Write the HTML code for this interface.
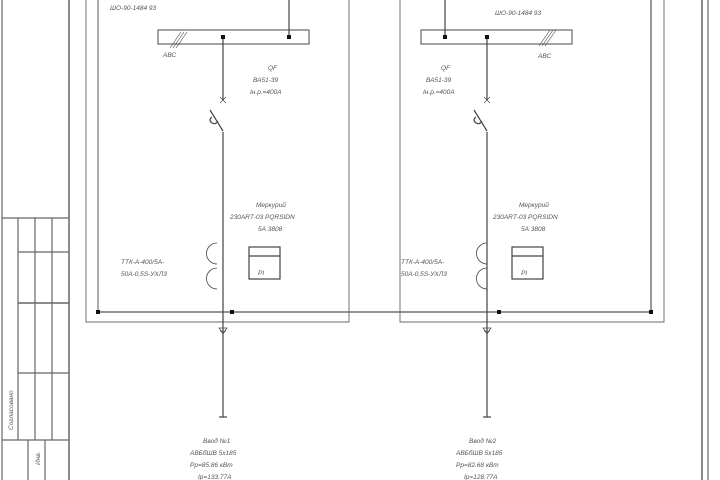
<!DOCTYPE html>
<html><head><meta charset="utf-8"><style>
html,body{margin:0;padding:0;background:#fff;width:720px;height:480px;overflow:hidden}
svg text{font-family:"Liberation Sans","DejaVu Sans",sans-serif;font-style:italic;font-size:6.5px;fill:#555}
</style></head><body>
<svg width="720" height="480" viewBox="0 0 720 480" xmlns="http://www.w3.org/2000/svg">
<g stroke="#666" stroke-width="1.2" fill="none">
<!-- left stamp table -->
<line x1="2" y1="0" x2="2" y2="480"/>
<line x1="69" y1="0" x2="69" y2="480" stroke-width="1.5"/>
<line x1="2" y1="218" x2="69" y2="218"/>
<line x1="18" y1="252" x2="69" y2="252"/>
<line x1="18" y1="303" x2="69" y2="303" stroke-width="1.6"/>
<line x1="18" y1="373" x2="69" y2="373"/>
<line x1="2" y1="440" x2="69" y2="440"/>
<line x1="18" y1="218" x2="18" y2="440"/>
<line x1="35" y1="218" x2="35" y2="440"/>
<line x1="52" y1="218" x2="52" y2="440"/>
<line x1="28" y1="440" x2="28" y2="480"/>
<line x1="45" y1="440" x2="45" y2="480"/>
<!-- frames -->
<line x1="702" y1="0" x2="702" y2="480" stroke-width="1.5"/>
<line x1="708" y1="0" x2="708" y2="480"/>
<!-- panels -->
<polyline points="86,0 86,322 349,322 349,0" stroke="#888"/>
<polyline points="400,0 400,322 664,322 664,0" stroke="#888"/>
<!-- bus -->
<line x1="98" y1="312" x2="651" y2="312" stroke="#555"/>
<line x1="651" y1="0" x2="651" y2="312" stroke="#555"/>
<line x1="98" y1="0" x2="98" y2="312" stroke="#777"/>
<!-- busbars -->
<rect x="158" y="30" width="151" height="14"/>
<rect x="421" y="30" width="151" height="14"/>
</g>
<g stroke="#444" stroke-width="1.2" fill="none">
<line x1="289" y1="0" x2="289" y2="37"/>
<line x1="223" y1="37" x2="223" y2="100"/>
<line x1="223" y1="132" x2="223" y2="417"/>
<path d="M210,110 L223,131"/>
<path d="M212,117 q-4,3 0,6 q4,2 6,-2"/>
<path d="M220,97 l6,6 M226,97 l-6,6" stroke-width="0.7"/>
<path d="M217,243 a5,5 0 1 0 0,21 M217,268 a5,5 0 1 0 0,21" stroke-width="0.8"/>
<path d="M219,328 h8 l-4,6 z M220,331 h6" stroke-width="0.7"/>
<line x1="219" y1="417" x2="227" y2="417"/>
<rect x="249" y="247" width="31" height="32"/>
<line x1="249" y1="256" x2="280" y2="256"/>
<path d="M170,48 l11,-16 M173,48 l11,-16 M176,48 l11,-16" stroke-width="0.6"/>

<line x1="445" y1="0" x2="445" y2="37"/>
<line x1="487" y1="37" x2="487" y2="100"/>
<line x1="487" y1="132" x2="487" y2="417"/>
<path d="M474,110 L487,131"/>
<path d="M476,117 q-4,3 0,6 q4,2 6,-2"/>
<path d="M484,97 l6,6 M490,97 l-6,6" stroke-width="0.7"/>
<path d="M487,243 a5,5 0 1 0 0,21 M487,268 a5,5 0 1 0 0,21" stroke-width="0.8"/>
<path d="M483,328 h8 l-4,6 z M484,331 h6" stroke-width="0.7"/>
<line x1="483" y1="417" x2="491" y2="417"/>
<rect x="512" y="247" width="31" height="32"/>
<line x1="512" y1="256" x2="543" y2="256"/>
<path d="M539,46 l11,-16 M542,46 l11,-16 M545,46 l11,-16" stroke-width="0.6"/>
</g>
<g fill="#111">
<rect x="221" y="35" width="4" height="4"/><rect x="287" y="35" width="4" height="4"/>
<rect x="443" y="35" width="4" height="4"/><rect x="485" y="35" width="4" height="4"/>
<rect x="96" y="310" width="4" height="4"/><rect x="230" y="310" width="4" height="4"/>
<rect x="497" y="310" width="4" height="4"/><rect x="649" y="310" width="4" height="4"/>
</g>
<text x="110" y="10">ШО-90-1484 93</text>
<text x="495" y="15">ШО-90-1484 93</text>
<text x="163" y="57">АВС</text>
<text x="538" y="58">АВС</text>
<text x="268" y="70">QF</text><text x="253" y="82">ВА51-39</text><text x="250" y="94">Iн.р.=400А</text>
<text x="441" y="70">QF</text><text x="426" y="82">ВА51-39</text><text x="423" y="94">Iн.р.=400А</text>
<text x="256" y="207">Меркурий</text><text x="230" y="219">230АRТ-03 PQRSIDN</text><text x="258" y="231">5А 3808</text>
<text x="519" y="207">Меркурий</text><text x="493" y="219">230АRТ-03 PQRSIDN</text><text x="521" y="231">5А 3808</text>
<text x="121" y="264">ТТК-А-400/5А-</text><text x="121" y="276">50А-0,5S-УХЛ3</text>
<text x="401" y="264">ТТК-А-400/5А-</text><text x="401" y="276">50А-0,5S-УХЛ3</text>
<text x="258" y="275" font-size="8">PI</text><text x="521" y="275" font-size="8">PI</text>
<text x="203" y="443">Ввод №1</text><text x="190" y="455">АВБбШВ 5х185</text><text x="190" y="467">Рр=85.86 кВт</text><text x="198" y="479">Iр=133.77А</text>
<text x="469" y="443">Ввод №2</text><text x="456" y="455">АВБбШВ 5х185</text><text x="456" y="467">Рр=82.68 кВт</text><text x="464" y="479">Iр=128.77А</text>
<text transform="translate(13,430) rotate(-90)" font-size="8">Согласовано</text>
<text transform="translate(40,465) rotate(-90)" font-size="6">Инв.</text>
</svg>
</body></html>
